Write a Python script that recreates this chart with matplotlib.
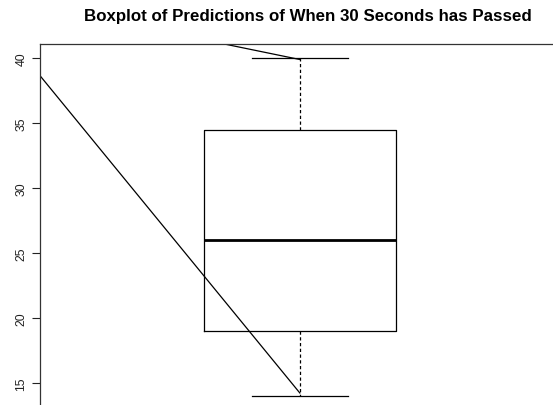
import matplotlib
matplotlib.use("Agg")
import matplotlib.pyplot as plt

# Data
title = "Boxplot of Predictions of When 30 Seconds has Passed"
box_stats_values = {"whislo": 14.0, "q1": 19.0, "med": 26.0, "q3": 34.5, "whishi": 40.0}
yticks = [15, 20, 25, 30, 35, 40]
line_a_x = [-0.5, 1]
line_a_y = [48.1, 14.2]
line_b_x = [-0.5, 1]
line_b_y = [45.6, 39.9]

plt.rcParams['font.family'] = ['Liberation Sans', 'DejaVu Sans']

fig = plt.figure(figsize=(5.53, 4.06), dpi=100)
ax = fig.add_axes([40 / 553, 0.0, 513 / 553, 361 / 406])

stats = [dict(box_stats_values, fliers=[], label="")]
ax.bxp(stats, positions=[1], widths=0.8, capwidths=0.4, showfliers=False,
       boxprops=dict(color="black", linewidth=0.9),
       whiskerprops=dict(color="black", linewidth=0.9, linestyle=(0, (2.6, 2.0))),
       capprops=dict(color="black", linewidth=0.9),
       medianprops=dict(color="black", linewidth=2.0))

ax.plot(line_a_x, line_a_y, color="black", linewidth=0.9, solid_capstyle="butt")
ax.plot(line_b_x, line_b_y, color="black", linewidth=0.9, solid_capstyle="butt")

ax.set_xlim(-0.0824, 2.0516)
ax.set_ylim(13.31, 41.10)

ax.set_yticks(yticks)
ax.set_yticklabels([str(v) for v in yticks], rotation=90, va="center", fontsize=8.8)
ax.tick_params(axis="y", length=5.8, width=0.8, pad=3.2, colors="#222222")
ax.set_xticks([])

for s in ["right", "bottom"]:
    ax.spines[s].set_visible(False)
for s in ["left", "top"]:
    ax.spines[s].set_linewidth(0.9)
    ax.spines[s].set_color("#333333")

fig.text(308 / 553, 1 - 16 / 406, title, ha="center", va="center",
         fontsize=12.2, fontweight="bold")

fig.savefig("out.png", dpi=100)
